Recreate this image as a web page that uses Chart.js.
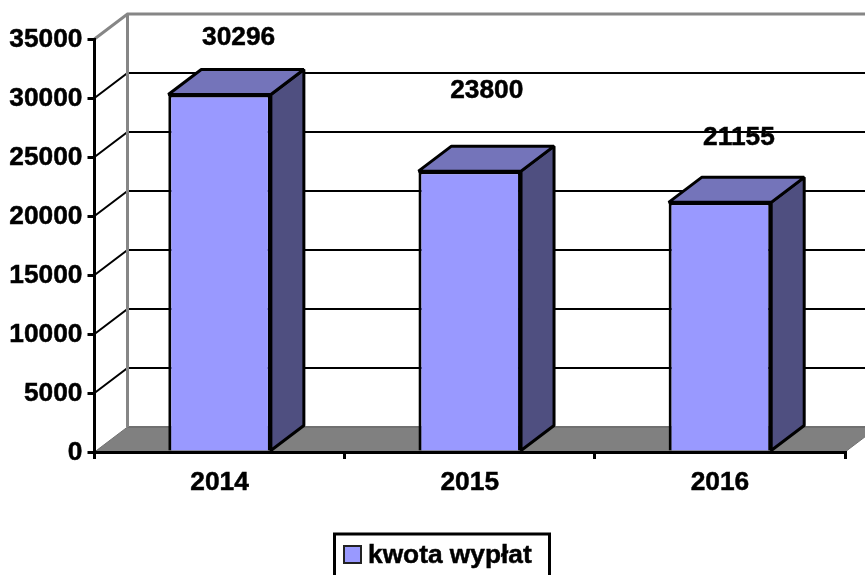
<!DOCTYPE html>
<html>
<head>
<meta charset="utf-8">
<script src="https://cdn.jsdelivr.net/npm/chart.js@4/dist/chart.umd.min.js"></script>
<style>
    body { margin: 0; background: #fff; }
    canvas { display: block; }
</style>
</head>
<body>
<canvas id="chart" width="865" height="575"></canvas>
<script>
const years = ['2014', '2015', '2016'];
const payouts = [30296, 23800, 21155];
const yTicks = [0, 5000, 10000, 15000, 20000, 25000, 30000, 35000];
const seriesName = 'kwota wypłat';

const FAMILY = '"Liberation Sans", Arial, sans-serif';
const FONT = 'bold 26.3px ' + FAMILY;
const TEXT_WEIGHT = 0.5; // the original text is a bit heavier than plain bold
const DEPTH_X = 33;
const DEPTH_Y = 25;

// the labels were moved by hand in the original, so they don't follow the bar tops evenly
const labelShift = [[19, -57], [17, -80], [19, -65]];

function poly(ctx, pts, fill, stroke, width) {
    ctx.beginPath();
    pts.forEach((p, i) => (i ? ctx.lineTo(p[0], p[1]) : ctx.moveTo(p[0], p[1])));
    ctx.closePath();
    if (fill) {
        ctx.fillStyle = fill;
        ctx.fill();
    }
    if (stroke) {
        ctx.strokeStyle = stroke;
        ctx.lineWidth = width;
        ctx.lineJoin = 'bevel';
        ctx.stroke();
    }
}

function line(ctx, pts, color, width) {
    ctx.beginPath();
    pts.forEach((p, i) => (i ? ctx.lineTo(p[0], p[1]) : ctx.moveTo(p[0], p[1])));
    ctx.strokeStyle = color;
    ctx.lineWidth = width;
    ctx.stroke();
}

function boldText(ctx, text, x, y) {
    ctx.lineWidth = TEXT_WEIGHT;
    ctx.strokeStyle = '#000';
    ctx.fillText(text, x, y);
    ctx.strokeText(text, x, y);
}

// back wall, floor and the 3d gridlines
const wallPlugin = {
    id: 'wall',
    beforeDraw(chart) {
        const { ctx, scales: { x, y } } = chart;
        const left = x.left;
        const right = x.right;
        const base = y.getPixelForValue(0);
        ctx.save();
        poly(ctx, [
            [left, base], [left + DEPTH_X, base - DEPTH_Y],
            [right + DEPTH_X, base - DEPTH_Y], [right, base],
        ], '#808080');
        line(ctx, [[left + DEPTH_X, base - DEPTH_Y], [right + DEPTH_X, base - DEPTH_Y]], '#707070', 2);
        line(ctx, [[left, base], [left + DEPTH_X, base - DEPTH_Y]], '#707070', 1);
        line(ctx, [[right, base], [right + DEPTH_X, base - DEPTH_Y]], '#707070', 1);
        yTicks.forEach((v) => {
            if (v === 0) return;
            const py = y.getPixelForValue(v);
            const top = v === yTicks[yTicks.length - 1];
            const color = top ? '#868686' : '#000';
            const w = top ? 3 : 2;
            line(ctx, [[left, py], [left + DEPTH_X, py - DEPTH_Y], [right + DEPTH_X, py - DEPTH_Y]], color, w);
        });
        const wallTop = y.getPixelForValue(yTicks[yTicks.length - 1]) - DEPTH_Y;
        line(ctx, [[left + DEPTH_X, wallTop], [left + DEPTH_X, base - DEPTH_Y]], '#868686', 3);
        ctx.restore();
    },
    // side and top faces of the bars, the front face is the real chart.js bar
    beforeDatasetsDraw(chart) {
        const { ctx } = chart;
        ctx.save();
        chart.getDatasetMeta(0).data.forEach((bar) => {
            const half = bar.width / 2;
            const l = bar.x - half;
            const r = bar.x + half;
            const t = bar.y;
            const b = bar.base;
            poly(ctx, [[r, t], [r + DEPTH_X, t - DEPTH_Y], [r + DEPTH_X, b - DEPTH_Y], [r, b]], '#4f4f80', '#000', 3);
            poly(ctx, [[l, t], [l + DEPTH_X, t - DEPTH_Y], [r + DEPTH_X, t - DEPTH_Y], [r, t]], '#7474ba', '#000', 3);
        });
        ctx.restore();
    },
    afterDatasetsDraw(chart) {
        const { ctx } = chart;
        ctx.save();
        ctx.font = FONT;
        ctx.fillStyle = '#000';
        ctx.textAlign = 'center';
        ctx.textBaseline = 'middle';
        chart.getDatasetMeta(0).data.forEach((bar, i) => {
            boldText(ctx, String(payouts[i]), bar.x + labelShift[i][0], bar.y + labelShift[i][1]);
        });

        // legend box, runs off the bottom of the picture like the original
        ctx.lineWidth = 3;
        ctx.strokeStyle = '#000';
        ctx.strokeRect(334.5, 534, 215, 50);
        ctx.fillStyle = '#9999ff';
        ctx.fillRect(344, 546, 17, 17);
        ctx.lineWidth = 2;
        ctx.strokeStyle = '#222';
        ctx.strokeRect(344, 546, 17, 17);
        ctx.fillStyle = '#000';
        ctx.textAlign = 'left';
        boldText(ctx, seriesName, 368, 556);
        ctx.restore();
    },
};

new Chart(document.getElementById('chart').getContext('2d'), {
    type: 'bar',
    data: {
        labels: years,
        datasets: [{
            label: seriesName,
            data: payouts,
            backgroundColor: '#9999ff',
            borderColor: '#000',
            borderWidth: 3,
            barPercentage: 0.41,
            categoryPercentage: 1,
        }],
    },
    options: {
        responsive: false,
        animation: false,
        layout: { padding: { top: 39, right: 20, left: 0, bottom: 0 } },
        plugins: {
            legend: { display: false },
            tooltip: { enabled: false },
        },
        scales: {
            x: {
                afterFit(scale) { scale.height = 123; },
                border: { color: '#000', width: 3 },
                grid: { offset: true, drawOnChartArea: false, color: '#000', lineWidth: 3, tickLength: 7 },
                ticks: {
                    color: '#000',
                    padding: 8,
                    maxRotation: 0,
                    textStrokeColor: '#000',
                    textStrokeWidth: TEXT_WEIGHT,
                    font: { family: FAMILY, size: 26.3, weight: 'bold' },
                },
            },
            y: {
                min: 0,
                max: 35000,
                afterFit(scale) { scale.width = 94.5; },
                afterBuildTicks(scale) { scale.ticks = yTicks.map((value) => ({ value })); },
                border: { color: '#000', width: 3 },
                grid: { drawOnChartArea: false, color: '#000', lineWidth: 3, tickLength: 7 },
                ticks: {
                    color: '#000',
                    padding: 5,
                    labelOffset: 1,
                    textStrokeColor: '#000',
                    textStrokeWidth: TEXT_WEIGHT,
                    callback: (v) => String(v),
                    font: { family: FAMILY, size: 26.3, weight: 'bold' },
                },
            },
        },
    },
    plugins: [wallPlugin],
});
</script>
</body>
</html>
